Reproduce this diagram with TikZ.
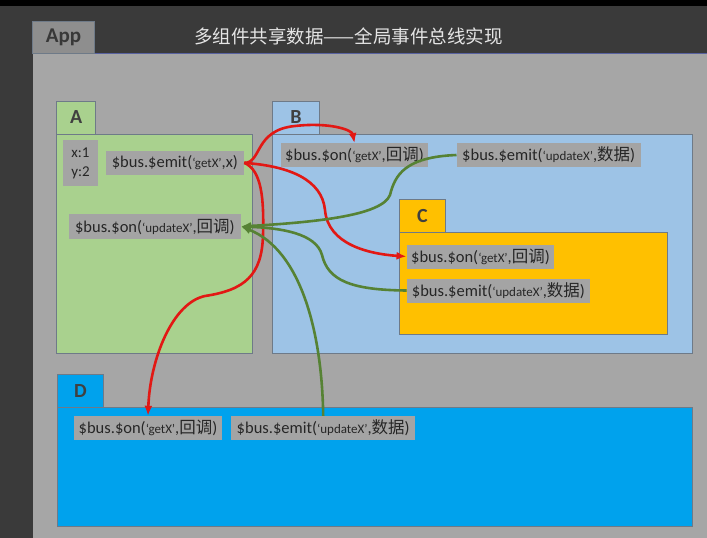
\documentclass[tikz,border=0pt]{standalone}
\usepackage{fontspec}
\setmainfont{Carlito}
\newfontfamily\cjk{Noto Sans CJK SC}
\usepackage{tikz}
\usetikzlibrary{arrows.meta}
\definecolor{screen}{RGB}{58,58,58}
\definecolor{panel}{RGB}{166,166,166}
\definecolor{apptab}{RGB}{142,142,142}
\definecolor{compA}{RGB}{169,209,142}
\definecolor{compB}{RGB}{157,195,230}
\definecolor{compC}{RGB}{255,192,0}
\definecolor{compD}{RGB}{0,162,237}
\definecolor{codebg}{RGB}{164,164,164}
\definecolor{edge}{RGB}{110,122,136}
\definecolor{getc}{RGB}{226,24,20}
\definecolor{updc}{RGB}{86,130,52}
\newcommand\evt[1]{{\fontsize{13}{13}\selectfont ‘#1’}}
\newcommand\zh[1]{{\cjk #1}}

\begin{document}
\begin{tikzpicture}[x=1pt,y=-1pt,
  code/.style={fill=codebg,inner sep=0pt,minimum height=24pt,
    font=\fontsize{16.5}{16.5}\selectfont,text=black!85},
  tabbox/.style={draw=edge,line width=0.8pt,inner sep=0pt,minimum height=33pt,
    font=\bfseries\fontsize{20}{20}\selectfont,text=black!75},
  body/.style={draw=edge,line width=0.8pt},
  getarrow/.style={getc,line width=2.6pt,-{Latex[length=10pt,width=8pt]}},
  updarrow/.style={updc,line width=2.6pt,-{Latex[length=10pt,width=8pt]}}]
  \useasboundingbox (0,0) rectangle (707,538);
  % screen and App panel
  \fill[black] (0,0) rectangle (707,538);
  \fill[screen] (0,6) rectangle (707,538);
  \fill[panel] (32.5,53.3) rectangle (707,538);
  \draw[edge!80!blue,line width=0.8pt] (32.5,53.3) -- (707,53.3);
  \node[tabbox,fill=apptab,minimum width=62pt,minimum height=32pt,text=black!78,
    font=\bfseries\fontsize{21}{21}\selectfont] (app) at (63.6,37.2) {App};
  \node[font=\cjk\fontsize{18.5}{18.5}\selectfont,text=white!90!black] (title) at (348.5,36) {多组件共享数据——全局事件总线实现};

  % component A
  \draw[body,fill=compA] (56.7,134) rectangle (252,353);
  \node[tabbox,fill=compA,minimum width=39pt] (Atab) at (76.2,117.4) {A};
  \node[code,minimum width=35pt,minimum height=46pt,align=left,font=\fontsize{15}{19}\selectfont] (Adata) at (80.5,163) {x:1\\y:2};
  \node[code,minimum width=138.3pt] (Aemit) at (174.9,162.9) {\$bus.\$emit(\evt{getX},x)};
  \node[code,minimum width=171.7pt,minimum height=25pt] (Aon) at (154.9,226.5) {\$bus.\$on(\evt{updateX},\zh{回调})};

  % component B
  \draw[body,fill=compB] (272.7,134) rectangle (692.3,353);
  \node[tabbox,fill=compB,minimum width=46.6pt] (Btab) at (296,117.5) {B};
  \node[code,minimum width=147.6pt,minimum height=23.4pt] (Bon) at (354.5,155) {\$bus.\$on(\evt{getX},\zh{回调})};
  \node[code,minimum width=184pt] (Bemit) at (548.7,155) {\$bus.\$emit(\evt{updateX},\zh{数据})};

  % component C
  \draw[body,fill=compC] (399,232.7) rectangle (667.7,334.3);
  \node[tabbox,fill=compC,minimum width=46.7pt,minimum height=33.4pt] (Ctab) at (422.3,216) {C};
  \node[code,minimum width=147.6pt] (Con) at (480.5,256.5) {\$bus.\$on(\evt{getX},\zh{回调})};
  \node[code,minimum width=183.3pt] (Cemit) at (498.4,290.5) {\$bus.\$emit(\evt{updateX},\zh{数据})};

  % component D
  \draw[body,fill=compD] (57,407.3) rectangle (692,526.7);
  \node[tabbox,fill=compD,minimum width=46.8pt] (Dtab) at (80.4,390.8) {D};
  \node[code,minimum width=148pt] (Don) at (148,428) {\$bus.\$on(\evt{getX},\zh{回调})};
  \node[code,minimum width=183.6pt] (Demit) at (323.2,428) {\$bus.\$emit(\evt{updateX},\zh{数据})};

  % getX: A emits, B C D listen
  \draw[getarrow] (Aemit.east) .. controls (262,163) and (254,130) .. (295,126)
    .. controls (330,122) and (352,130) .. (Bon.north);
  \draw[getarrow] (Aemit.east) .. controls (290,166) and (322,180) .. (325,210)
    .. controls (328,245) and (370,254) .. (Con.west);
  \draw[getarrow] (Aemit.east) .. controls (262,170) and (264,200) .. (263,235)
    .. controls (262,275) and (245,290) .. (205,296)
    .. controls (172,303) and (150,360) .. (Don.north);

  % updateX: B C D emit, A listens
  \draw[updarrow] (Bemit.west) .. controls (405,157) and (395,175) .. (390,195)
    .. controls (382,215) and (320,222) .. (Aon.east);
  \draw[updarrow] (Cemit.west) .. controls (350,290) and (328,280) .. (322,255)
    .. controls (316,233) and (280,228) .. (Aon.east);
  \draw[updarrow] (Demit.north) .. controls (322,330) and (300,250) .. (Aon.east);
\end{tikzpicture}
\end{document}
